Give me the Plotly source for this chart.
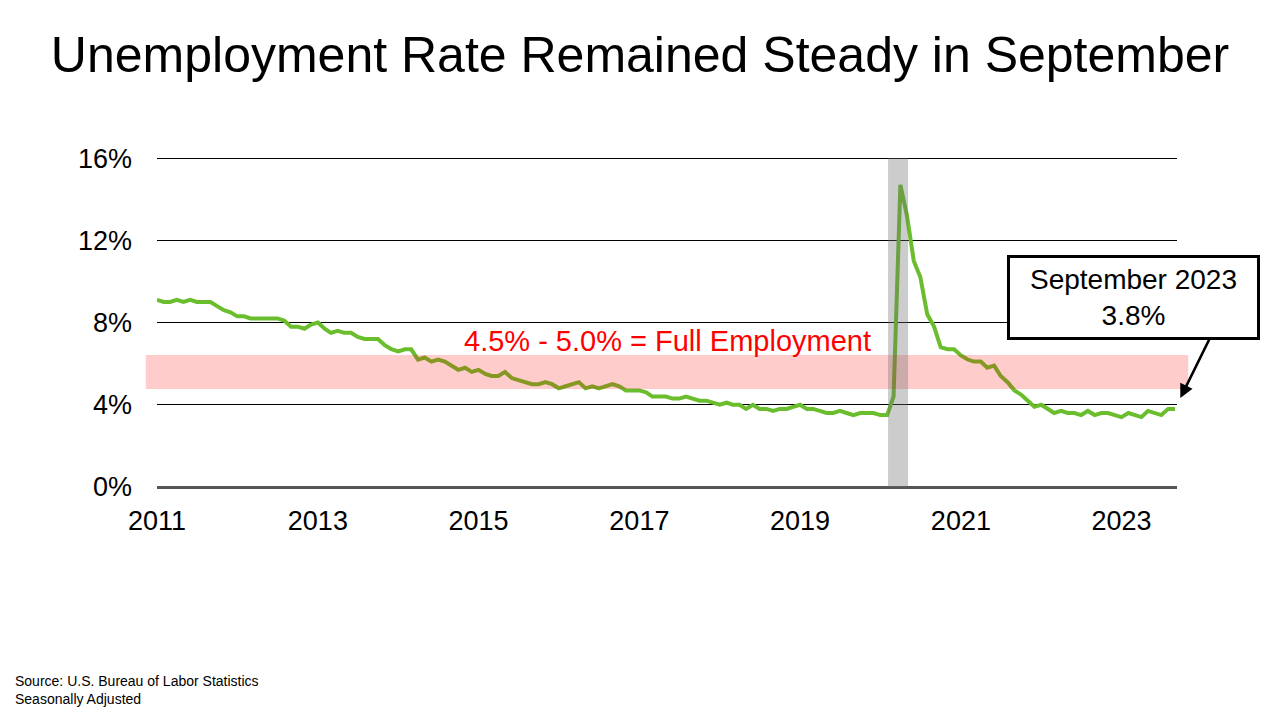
import plotly.graph_objects as go
import pandas as pd

# monthly unemployment rate, seasonally adjusted (Jan 2011 - Sep 2023)
rate_2011 = [9.1, 9.0, 9.0, 9.1, 9.0, 9.1, 9.0, 9.0, 9.0, 8.8, 8.6, 8.5]
rate_2012 = [8.3, 8.3, 8.2, 8.2, 8.2, 8.2, 8.2, 8.1, 7.8, 7.8, 7.7, 7.9]
rate_2013 = [8.0, 7.7, 7.5, 7.6, 7.5, 7.5, 7.3, 7.2, 7.2, 7.2, 6.9, 6.7]
rate_2014 = [6.6, 6.7, 6.7, 6.2, 6.3, 6.1, 6.2, 6.1, 5.9, 5.7, 5.8, 5.6]
rate_2015 = [5.7, 5.5, 5.4, 5.4, 5.6, 5.3, 5.2, 5.1, 5.0, 5.0, 5.1, 5.0]
rate_2016 = [4.8, 4.9, 5.0, 5.1, 4.8, 4.9, 4.8, 4.9, 5.0, 4.9, 4.7, 4.7]
rate_2017 = [4.7, 4.6, 4.4, 4.4, 4.4, 4.3, 4.3, 4.4, 4.3, 4.2, 4.2, 4.1]
rate_2018 = [4.0, 4.1, 4.0, 4.0, 3.8, 4.0, 3.8, 3.8, 3.7, 3.8, 3.8, 3.9]
rate_2019 = [4.0, 3.8, 3.8, 3.7, 3.6, 3.6, 3.7, 3.6, 3.5, 3.6, 3.6, 3.6]
rate_2020 = [3.5, 3.5, 4.4, 14.7, 13.2, 11.0, 10.2, 8.4, 7.8, 6.8, 6.7, 6.7]
rate_2021 = [6.4, 6.2, 6.1, 6.1, 5.8, 5.9, 5.4, 5.1, 4.7, 4.5, 4.2, 3.9]
rate_2022 = [4.0, 3.8, 3.6, 3.7, 3.6, 3.6, 3.5, 3.7, 3.5, 3.6, 3.6, 3.5]
rate_2023 = [3.4, 3.6, 3.5, 3.4, 3.7, 3.6, 3.5, 3.8, 3.8]

rates = (rate_2011 + rate_2012 + rate_2013 + rate_2014 + rate_2015 + rate_2016 +
         rate_2017 + rate_2018 + rate_2019 + rate_2020 + rate_2021 + rate_2022 + rate_2023)
months = pd.date_range("2011-01-01", periods=len(rates), freq="MS")

tick_years = ["2011", "2013", "2015", "2017", "2019", "2021", "2023"]
y_ticks = [0, 4, 8, 12, 16]
y_labels = ["0%", "4%", "8%", "12%", "16%"]

recession = ("2020-02-05", "2020-05-06")
band_label = "4.5% - 5.0% = Full Employment"
callout = "September 2023<br>3.8%"
source = "Source: U.S. Bureau of Labor Statistics<br>Seasonally Adjusted"

FONT = "Liberation Sans, Arial, sans-serif"

fig = go.Figure()
fig.add_trace(go.Scatter(x=months, y=rates, mode="lines",
                         line=dict(color="#6abd2d", width=4), hoverinfo="skip"))

# full employment band + recession shading, drawn over the line (see-through)
fig.add_shape(type="rect", xref="paper", yref="y", x0=-0.011, x1=1.011, y0=4.77, y1=6.42,
              fillcolor="rgba(255,0,0,0.2)", line_width=0, layer="above")
fig.add_shape(type="rect", xref="x", yref="y", x0=recession[0], x1=recession[1], y0=0, y1=16,
              fillcolor="rgba(110,110,110,0.35)", line_width=0, layer="above")

fig.add_annotation(x=0.5, y=6.42, xref="paper", yref="y", text=band_label, showarrow=False,
                   xanchor="center", yanchor="bottom", yshift=-4,
                   font=dict(family=FONT, size=29, color="#ff0000"))

# callout box and its arrow
fig.add_annotation(x=0.957, y=297, xref="paper", yref="paper", text=callout, showarrow=False,
                   xanchor="center", yanchor="middle",
                   bordercolor="black", borderwidth=3, borderpad=4, bgcolor="white",
                   width=239, height=71, font=dict(family=FONT, size=28, color="black"))
fig.add_annotation(x=months[-1], y=rates[-1], text="", showarrow=True,
                   arrowhead=2, arrowsize=1.1, arrowwidth=2.5, arrowcolor="black",
                   ax=35, ay=-71, standoff=12)

fig.add_annotation(x=-0.1412, y=-0.611, xref="paper", yref="paper", text=source,
                   showarrow=False, xanchor="left", yanchor="middle", align="left",
                   font=dict(family=FONT, size=14, color="black"))

# callout box y given in page pixels above -> convert to paper units of the plot area
PLOT_TOP, PLOT_BOTTOM = 155, 487
for ann in fig.layout.annotations:
    if ann.text == callout:
        ann.y = (PLOT_BOTTOM - ann.y) / (PLOT_BOTTOM - PLOT_TOP)

# the page body has an 8px margin, so the figure is sized to fit inside it
fig.update_layout(
    width=1272, height=712,
    margin=dict(l=149, r=103, t=147, b=233),
    paper_bgcolor="white", plot_bgcolor="white",
    showlegend=False,
    font=dict(family=FONT, color="black"),
    title=dict(text="Unemployment Rate Remained Steady in September", x=0.4969, xanchor="center",
               y=0.934, yanchor="middle", font=dict(family=FONT, size=50, color="black")),
    xaxis=dict(range=["2011-01-01", "2023-09-10"], tickvals=[y + "-01-01" for y in tick_years],
               ticktext=tick_years, showgrid=False, zeroline=False, showline=False,
               ticks="", tickfont=dict(size=27), ticklabelstandoff=15),
    yaxis=dict(range=[0, 16.15], tickvals=y_ticks, ticktext=y_labels, showgrid=True,
               gridcolor="black", gridwidth=1, zeroline=True, zerolinecolor="#555555",
               zerolinewidth=2.5, ticks="", tickfont=dict(size=27), ticklabelstandoff=24),
)

fig.write_html("out.html")
